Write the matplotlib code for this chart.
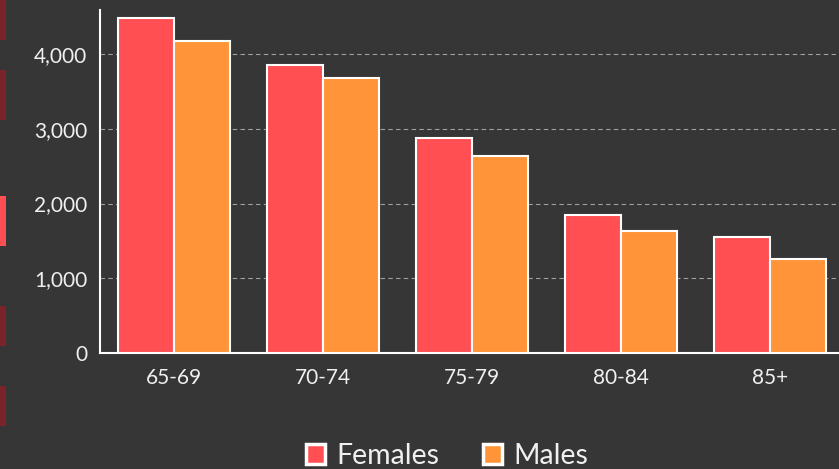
import matplotlib.pyplot as plt
from matplotlib.patches import Rectangle
import numpy as np

ages = ["65-69", "70-74", "75-79", "80-84", "85+"]
females = [4480, 3855, 2875, 1845, 1550]
males = [4175, 3680, 2635, 1635, 1260]

BG = "#363636"
RED = "#ff4f52"
ORANGE = "#ff9438"
TXT = "#f0f0f0"

plt.rcParams["font.family"] = ["Lato", "DejaVu Sans"]

fig = plt.figure(figsize=(8.39, 4.69), dpi=100, facecolor=BG)
W, H = 839, 469
ax = fig.add_axes([100 / W, 1 - 353 / H, 744 / W, 343 / H], facecolor=BG)

x = np.arange(len(ages))
bw = 0.376
ax.bar(x - bw / 2, females, bw, color=RED, edgecolor="white", linewidth=1.5,
       label="Females", zorder=3)
ax.bar(x + bw / 2, males, bw, color=ORANGE, edgecolor="white", linewidth=1.5,
       label="Males", zorder=3)

ax.set_xlim(-0.5, 4.5)
ax.set_ylim(0, 4590)
ax.set_yticks([0, 1000, 2000, 3000, 4000])
ax.set_yticklabels(["0", "1,000", "2,000", "3,000", "4,000"])
ax.set_xticks(x)
ax.set_xticklabels(ages)
ax.tick_params(colors=TXT, labelsize=15, length=0, pad=9)
ax.tick_params(axis="x", pad=11)
ax.grid(True, axis="y", color="#a0a0a0", linestyle=(0, (4, 3)), linewidth=0.8, zorder=0)
for sp in ("top", "right"):
    ax.spines[sp].set_visible(False)
for sp in ("left", "bottom"):
    ax.spines[sp].set_color("white")
    ax.spines[sp].set_linewidth(1.5)

leg = fig.legend(loc="center", bbox_to_anchor=(447 / W, 1 - 456 / H), ncol=2,
                 frameon=False, fontsize=20.5, handlelength=0.65, handleheight=0.65,
                 handletextpad=0.4, columnspacing=1.55, labelcolor=TXT)
for p in leg.get_patches():
    p.set_linewidth(2.5)

# left side nav markers
for y0, y1, c in [(0, 40, "#7a2328"), (70, 120, "#7a2328"), (196, 246, RED),
                  (306, 346, "#7a2328"), (386, 426, "#7a2328")]:
    fig.patches.append(Rectangle((0, 1 - y1 / H), 6 / W, (y1 - y0) / H,
                                 transform=fig.transFigure, color=c, lw=0))

fig.savefig("out.png", dpi=100, facecolor=BG)
